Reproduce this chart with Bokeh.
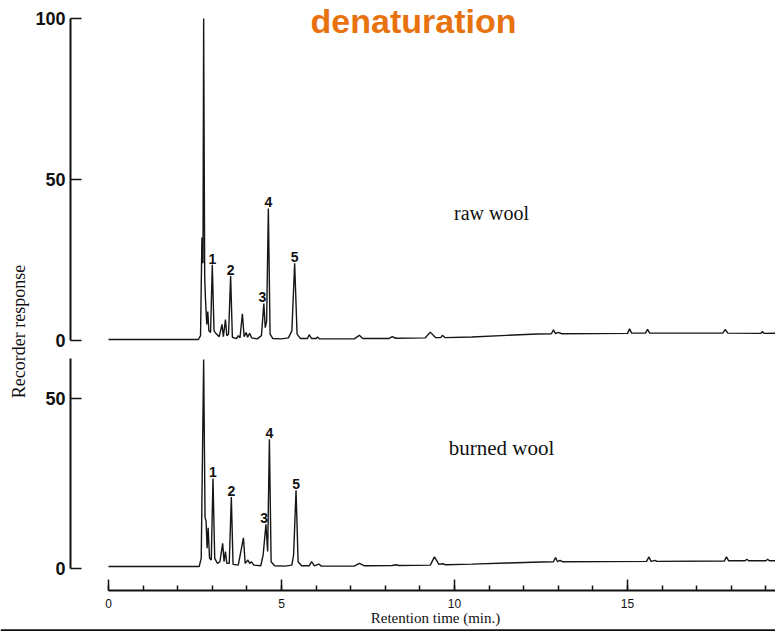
import math
from bokeh.plotting import figure
from bokeh.core.properties import value
from bokeh.models import (Range1d, LinearAxis, FixedTicker, SingleIntervalTicker,
                          Label, LabelSet, ColumnDataSource, Span)
from bokeh.embed import file_html
from bokeh.resources import INLINE

# ---------------- data ----------------
raw_time = [0.0, 2.60, 2.66, 2.70, 2.73, 2.75, 2.78, 2.80, 2.84, 2.87, 2.90, 2.95,
            3.00, 3.05, 3.12, 3.20, 3.28, 3.32, 3.38, 3.42, 3.47, 3.53, 3.58, 3.70,
            3.75, 3.80, 3.87, 3.92, 3.98, 4.02, 4.08, 4.14, 4.30, 4.42, 4.49, 4.53,
            4.57, 4.62, 4.67, 4.75, 5.00, 5.20, 5.30, 5.38, 5.45, 5.55, 5.75, 5.80,
            5.87, 6.00, 6.04, 6.10, 7.10, 7.25, 7.35, 8.10, 8.20, 8.30, 9.15, 9.30,
            9.45, 9.60, 9.65, 9.72, 10.5, 11.5, 12.4, 12.80, 12.86, 12.92, 13.00, 13.10,
            15.00, 15.06, 15.12, 15.52, 15.58, 15.64, 17.75, 17.83, 17.90, 18.85, 18.90,
            18.95, 19.6]
raw_resp = [0.3, 0.3, 1.5, 32.0, 24.0, 100.0, 20.0, 13.4, 5.0, 9.0, 3.0, 2.5,
            23.5, 3.0, 2.0, 1.2, 5.0, 1.2, 6.5, 1.5, 2.0, 20.0, 1.0, 0.6,
            1.5, 0.8, 8.3, 1.2, 2.5, 1.0, 2.2, 0.8, 0.5, 1.5, 11.5, 4.0,
            6.0, 41.0, 2.0, 0.6, 0.5, 0.8, 3.0, 24.0, 2.0, 0.6, 0.6, 1.8,
            0.6, 0.6, 1.1, 0.5, 0.5, 1.6, 0.6, 0.6, 1.2, 0.7, 0.8, 2.6,
            0.9, 0.9, 1.6, 0.9, 1.1, 1.6, 2.0, 2.1, 3.3, 2.1, 2.5, 2.1,
            2.2, 3.6, 2.3, 2.3, 3.5, 2.3, 2.3, 3.4, 2.3, 2.2, 2.8,
            2.2, 2.3]

burned_time = [0.0, 2.62, 2.68, 2.70, 2.75, 2.79, 2.82, 2.85, 2.88, 2.92, 2.97,
               3.02, 3.07, 3.15, 3.22, 3.30, 3.34, 3.38, 3.42, 3.49, 3.55, 3.60,
               3.75, 3.90, 3.95, 4.03, 4.08, 4.13, 4.20, 4.40, 4.47, 4.55, 4.60,
               4.65, 4.70, 4.80, 5.10, 5.30, 5.35, 5.42, 5.48, 5.58, 5.80, 5.87,
               5.95, 6.08, 6.15, 7.10, 7.25, 7.40, 8.20, 8.30, 8.40, 9.30, 9.42,
               9.55, 9.65, 9.75, 10.5, 11.5, 12.5, 12.86, 12.92, 12.98, 13.05, 13.12,
               15.55, 15.62, 15.68, 15.80, 15.85, 17.80, 17.86, 17.92, 18.40, 18.45,
               18.50, 19.00, 19.05, 19.10, 19.6]
burned_resp = [0.6, 0.6, 3.0, 20.0, 61.5, 15.0, 14.0, 6.0, 12.0, 3.0, 2.5,
               26.5, 3.0, 1.5, 2.0, 7.4, 2.0, 5.0, 1.5, 1.5, 21.0, 1.2,
               1.0, 9.0, 1.5, 2.5, 1.5, 2.0, 1.0, 0.8, 4.0, 13.0, 5.0,
               38.0, 2.0, 0.8, 0.7, 1.0, 4.0, 23.0, 2.0, 0.8, 0.8, 2.0,
               0.8, 1.3, 0.7, 0.7, 1.5, 0.8, 0.9, 1.1, 0.9, 1.0, 3.4,
               1.2, 1.4, 1.1, 1.3, 1.6, 1.9, 2.0, 3.2, 2.0, 2.4, 2.0,
               2.1, 3.4, 2.1, 2.4, 2.1, 2.2, 3.4, 2.3, 2.3, 2.7,
               2.3, 2.3, 2.7, 2.3, 2.3]

peak_ids = ["1", "2", "3", "4", "5"]
raw_peak_time = [3.00, 3.53, 4.45, 4.62, 5.38]
raw_peak_resp = [23.5, 20.0, 11.5, 41.0, 24.0]
burned_peak_time = [3.02, 3.55, 4.50, 4.65, 5.42]
burned_peak_resp = [26.5, 21.0, 13.0, 38.0, 23.0]

raw_yticks = [0, 50, 100]
burned_yticks = [0, 50]
title_text = "denaturation"
raw_label = "raw wool"
burned_label = "burned wool"
x_title = "Retention time (min.)"
y_title = "Recorder response"

# ---------------- layout (pixel geometry of the figure) ----------------
W, H = 775, 631
PX_PER_MIN = 34.6
X_ZERO = 108                         # figure x of t = 0
AXIS_T = (70 - X_ZERO) / PX_PER_MIN  # time where the y axes stand
RAW_ZERO, RAW_SCALE = 340, 3.22
BUR_ZERO, BUR_SCALE = 568, 3.40

def t_at(px):
    return (px - X_ZERO) / PX_PER_MIN

p = figure(width=W, height=H, output_backend="svg", toolbar_location=None,
           x_range=Range1d(t_at(0), t_at(W)), y_range=Range1d(H, 0),
           x_axis_type=None, y_axis_type=None, min_border=0,
           outline_line_color=None, background_fill_color="white",
           border_fill_color="white")

p.extra_y_ranges = {
    "raw": Range1d((RAW_ZERO - H) / RAW_SCALE, RAW_ZERO / RAW_SCALE),
    "burned": Range1d((BUR_ZERO - H) / BUR_SCALE, BUR_ZERO / BUR_SCALE),
}

TRACE = "#161616"
p.line(raw_time, raw_resp, y_range_name="raw", line_color=TRACE, line_width=1.4)
p.line(burned_time, burned_resp, y_range_name="burned", line_color=TRACE, line_width=1.4)

def y_axis(name, ticks, top):
    ax = LinearAxis(y_range_name=name, fixed_location=AXIS_T, bounds=(0, top),
                    ticker=FixedTicker(ticks=ticks, minor_ticks=[]),
                    major_tick_in=11, major_tick_out=0,
                    minor_tick_line_color=None,
                    axis_line_width=2, axis_line_color="#111111",
                    major_tick_line_width=1.5, major_tick_line_color="#111111",
                    major_label_text_font="Liberation Sans",
                    major_label_text_font_style="bold",
                    major_label_text_font_size="18px",
                    major_label_text_color="#111111",
                    major_label_standoff=5)
    p.add_layout(ax, "left")

y_axis("raw", raw_yticks, 100)
y_axis("burned", burned_yticks, 61.8)

X_AXIS_Y = 590
ax_x = LinearAxis(fixed_location=X_AXIS_Y, bounds=(0, 19.8),
                  ticker=SingleIntervalTicker(interval=5, num_minor_ticks=5),
                  major_tick_in=11, major_tick_out=0,
                  minor_tick_in=5, minor_tick_out=0,
                  axis_line_width=2, axis_line_color="#111111",
                  major_tick_line_width=1.5, minor_tick_line_width=1.5,
                  major_tick_line_color="#111111", minor_tick_line_color="#111111",
                  major_label_text_font="Liberation Sans",
                  major_label_text_font_size="12px",
                  major_label_text_color="#111111",
                  major_label_standoff=8)
p.add_layout(ax_x, "below")

ax_title = LinearAxis(fixed_location=X_AXIS_Y, bounds=(0, 18.9),
                      ticker=SingleIntervalTicker(interval=5, num_minor_ticks=5),
                      major_tick_in=0, major_tick_out=0,
                      minor_tick_in=0, minor_tick_out=0,
                      axis_line_color=None, major_tick_line_color=None,
                      minor_tick_line_color=None,
                      major_label_text_font="Liberation Sans",
                      major_label_text_font_size="12px",
                      major_label_text_color=None,
                      major_label_standoff=6,
                      axis_label=x_title,
                      axis_label_text_font="Liberation Serif",
                      axis_label_text_font_style="normal",
                      axis_label_text_font_size="15px",
                      axis_label_text_color="#111111",
                      axis_label_standoff=19)
p.add_layout(ax_title, "below")

# peak numbers
for name, tt, rr in (("raw", raw_peak_time, raw_peak_resp),
                     ("burned", burned_peak_time, burned_peak_resp)):
    src = ColumnDataSource(dict(t=tt, r=rr, s=peak_ids))
    p.add_layout(LabelSet(x="t", y="r", text="s", source=src, y_range_name=name,
                          text_align="center", text_baseline="bottom", y_offset=1,
                          text_font=value("Liberation Sans"),
                          text_font_style=value("bold"),
                          text_font_size=value("14px"), text_color=value("#111111")))

p.add_layout(Label(x=t_at(413), y=20, text=title_text, text_align="center",
                   text_baseline="middle", text_font="Liberation Sans",
                   text_font_style="bold", text_font_size="34px",
                   text_color="#E8730E"))
p.add_layout(Label(x=t_at(491), y=212, text=raw_label, text_align="center",
                   text_baseline="middle", text_font="Liberation Serif",
                   text_font_size="20px", text_color="#111111"))
p.add_layout(Label(x=t_at(501), y=447, text=burned_label, text_align="center",
                   text_baseline="middle", text_font="Liberation Serif",
                   text_font_size="21px", text_color="#111111"))
p.add_layout(Label(x=t_at(18), y=331, text=y_title, angle=math.pi / 2,
                   text_align="center", text_baseline="middle",
                   text_font="Liberation Serif", text_font_size="18px",
                   text_color="#111111"))

p.add_layout(Span(location=630, dimension="width", line_color="#111111", line_width=2.5))

open("out.html", "w").write(file_html(p, INLINE))
